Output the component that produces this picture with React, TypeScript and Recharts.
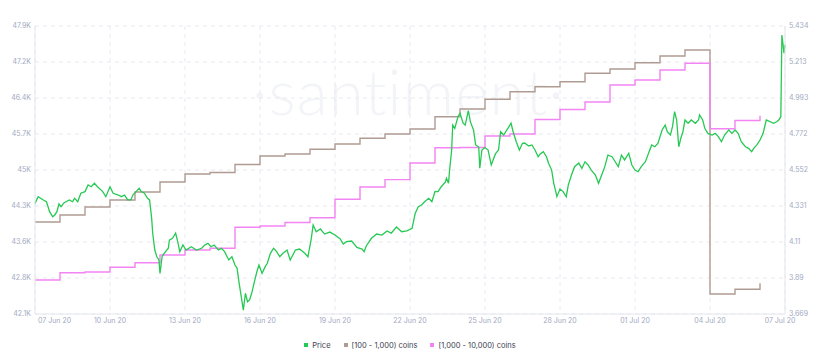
import { LineChart, Line, XAxis, YAxis, CartesianGrid, Legend } from "recharts";

const FONT = "Inter, 'Open Sans', sans-serif";
const GREEN = "#26c953";
const BROWN = "#b09b93";
const PINK = "#f384f3";
const TICK = "#a2a9c2";
const AXIS = "#e3e6ee";

// hours since 07 Jun 20 00:00
const dateTicks = [0, 72, 144, 216, 288, 360, 432, 504, 576, 648, 720];
const dateLabels = ["07 Jun 20", "10 Jun 20", "13 Jun 20", "16 Jun 20", "19 Jun 20", "22 Jun 20", "25 Jun 20", "28 Jun 20", "01 Jul 20", "04 Jul 20", "07 Jul 20"];

const leftTicks = [42100, 42825, 43550, 44275, 45000, 45725, 46450, 47175, 47900];
const leftLabels = ["42.1K", "42.8K", "43.6K", "44.3K", "45K", "45.7K", "46.4K", "47.2K", "47.9K"];
const rightTicks = [3.669, 3.8896, 4.1103, 4.3309, 4.5515, 4.7721, 4.9928, 5.2134, 5.434];
const rightLabels = ["3.669", "3.89", "4.11", "4.331", "4.552", "4.772", "4.993", "5.213", "5.434"];

const seriesNames = ["Price", "[100 - 1,000) coins", "[1,000 - 10,000) coins"];

// one value per day, from 07 Jun
const coins100 = [
  43953, 44094, 44255, 44396, 44557, 44758, 44919, 44950, 45111, 45282,
  45322, 45417, 45524, 45638, 45725, 45826, 46073, 46228, 46424, 46577,
  46678, 46778, 46947, 47034, 47161, 47296, 47417, 42503, 42597, 42718,
];
const coins1000 = [
  42785, 42932, 42946, 43040, 43133, 43288, 43389, 43423, 43846, 43872,
  43943, 44037, 44412, 44658, 44807, 45141, 45449, 45453, 45685, 45725,
  46017, 46218, 46369, 46712, 46812, 47014, 47149, 45832, 45997, 46094,
];

// [hour, price]
const price: [number, number][] = [
  [0, 4.347], [3, 4.388], [8, 4.368], [11, 4.357], [12, 4.337], [14, 4.296], [17, 4.265], [19, 4.276], [21, 4.296], [23, 4.343],
  [25, 4.327], [28, 4.351], [33, 4.368], [36, 4.357], [38, 4.378], [41, 4.357], [44, 4.409], [48, 4.419], [51, 4.46], [54, 4.449],
  [57, 4.47], [60, 4.449], [65, 4.419], [68, 4.388], [72, 4.449], [75, 4.409], [80, 4.398], [83, 4.388], [86, 4.398], [89, 4.368],
  [92, 4.368], [94, 4.398], [97, 4.419], [100, 4.439], [102, 4.419], [105, 4.409], [108, 4.378], [110, 4.368], [112, 4.255], [113, 4.164],
  [115, 4.061], [117, 4.02], [119, 4.0], [120, 3.918], [122, 4.02], [124, 4.041], [128, 4.072], [129, 4.122], [132, 4.133], [135, 4.164],
  [137, 4.112], [139, 4.051], [142, 4.092], [145, 4.061], [150, 4.081], [155, 4.061], [160, 4.072], [163, 4.092], [166, 4.102], [169, 4.081],
  [172, 4.092], [176, 4.061], [179, 4.072], [182, 4.051], [186, 4.0], [189, 4.02], [192, 3.969], [194, 3.949], [196, 3.857], [198, 3.775],
  [200, 3.693], [202, 3.796], [204, 3.744], [206, 3.755], [208, 3.796], [211, 3.877], [213, 3.928], [215, 3.969], [218, 3.918], [221, 3.959],
  [223, 3.98], [226, 4.041], [229, 4.072], [232, 4.051], [235, 4.02], [238, 4.041], [242, 4.061], [245, 4.0], [250, 4.061], [254, 4.067],
  [259, 4.041], [262, 4.02], [265, 4.122], [267, 4.214], [270, 4.173], [274, 4.19], [278, 4.159], [283, 4.171], [288, 4.153], [293, 4.129],
  [296, 4.098], [299, 4.112], [304, 4.116], [309, 4.077], [314, 4.067], [316, 4.051], [318, 4.086], [323, 4.133], [328, 4.159], [333, 4.153],
  [338, 4.178], [342, 4.165], [347, 4.202], [352, 4.173], [357, 4.178], [362, 4.194], [365, 4.286], [368, 4.327], [371, 4.337], [374, 4.357],
  [378, 4.378], [381, 4.357], [384, 4.42], [387, 4.419], [390, 4.449], [394, 4.478], [395, 4.501], [397, 4.47], [398, 4.551], [400, 4.674],
  [401, 4.827], [403, 4.807], [406, 4.878], [408, 4.899], [411, 4.838], [413, 4.827], [416, 4.916], [418, 4.846], [421, 4.797], [423, 4.705],
  [426, 4.692], [427, 4.562], [429, 4.674], [432, 4.689], [435, 4.674], [438, 4.582], [442, 4.65], [445, 4.674], [447, 4.786], [450, 4.766],
  [453, 4.797], [454, 4.807], [457, 4.838], [459, 4.786], [462, 4.725], [465, 4.674], [468, 4.715], [470, 4.717], [474, 4.699], [477, 4.705],
  [480, 4.674], [483, 4.633], [485, 4.65], [488, 4.664], [491, 4.633], [493, 4.593], [496, 4.551], [498, 4.47], [500, 4.417], [501, 4.388],
  [504, 4.435], [507, 4.419], [509, 4.398], [510, 4.388], [512, 4.46], [515, 4.521], [518, 4.572], [522, 4.594], [525, 4.562], [528, 4.602],
  [531, 4.582], [534, 4.551], [538, 4.521], [541, 4.47], [544, 4.521], [547, 4.572], [550, 4.643], [554, 4.633], [557, 4.602], [560, 4.572],
  [563, 4.643], [566, 4.613], [570, 4.654], [573, 4.582], [576, 4.551], [579, 4.541], [582, 4.572], [586, 4.602], [589, 4.654], [592, 4.705],
  [595, 4.694], [598, 4.715], [602, 4.797], [605, 4.827], [607, 4.786], [610, 4.766], [612, 4.817], [614, 4.909], [616, 4.858], [618, 4.694],
  [620, 4.746], [622, 4.786], [624, 4.858], [627, 4.838], [630, 4.858], [634, 4.838], [637, 4.858], [638, 4.889], [641, 4.858], [643, 4.807],
  [646, 4.776], [650, 4.766], [653, 4.776], [656, 4.756], [659, 4.725], [662, 4.766], [666, 4.797], [669, 4.776], [672, 4.797], [675, 4.776],
  [678, 4.725], [682, 4.694], [685, 4.684], [688, 4.664], [690, 4.684], [693, 4.705], [696, 4.735], [699, 4.776], [702, 4.858], [706, 4.847],
  [709, 4.838], [712, 4.847], [714, 4.858], [716, 4.878], [717, 5.379], [718, 5.328], [719, 5.267], [720, 5.318],
];

// merge everything into one table keyed by hour
const rows = new Map<number, any>();
const rowAt = (t: number) => {
  if (!rows.has(t)) rows.set(t, { t });
  return rows.get(t);
};
price.forEach(([t, v]) => { rowAt(t).price = v; });
coins100.forEach((v, d) => { rowAt(d * 24).c100 = v; });
coins1000.forEach((v, d) => { rowAt(d * 24).c1000 = v; });
const data = [...rows.values()].sort((a, b) => a.t - b.t);

const DateTick = (props: any) => {
  const { x, y, payload } = props;
  const i = dateTicks.indexOf(payload.value);
  const first = i === 0;
  const last = i === dateTicks.length - 1;
  return (
    <text x={x + (first ? 3 : last ? -5 : 0)} y={y} dy="0.71em" textAnchor={first ? "start" : "middle"}
      fill={TICK} fontSize={7} fontFamily={FONT}>
      {dateLabels[i]}
    </text>
  );
};

const legendColors = [GREEN, BROWN, PINK];

const ChartLegend = () => (
  <div style={{ height: 18, display: "flex", justifyContent: "center", alignItems: "center", gap: 13, fontFamily: FONT, fontSize: 7.5, color: "#3c4150" }}>
    {seriesNames.map((name, i) => (
      <span key={name} style={{ display: "flex", alignItems: "center" }}>
        <span style={{ width: 4, height: 4, background: legendColors[i], marginRight: 4, display: "inline-block" }} />
        {name}
      </span>
    ))}
  </div>
);

const App = () => {
  return (
    <div style={{ position: "absolute", left: 0, top: 0, width: 820, height: 354, background: "#fff" }}>
      <div style={{ position: "absolute", left: 252, top: 52, fontFamily: "Lato, sans-serif", fontWeight: 300, fontSize: 64, color: "#f3f4f8", letterSpacing: 1 }}>
        ·santiment·
      </div>
      <LineChart width={820} height={354} data={data} margin={{ top: 26, right: 0, bottom: 0, left: 0 }}>
        <CartesianGrid yAxisId="left" stroke="#e8eaf0" strokeDasharray="4 4" />
        <XAxis dataKey="t" type="number" domain={[0, 720]} ticks={dateTicks} interval={0} height={22}
          tick={<DateTick />} tickLine={false} tickSize={2} tickMargin={2} stroke={AXIS} />
        <YAxis yAxisId="left" domain={[42100, 47900]} ticks={leftTicks} interval={0} width={35}
          tickFormatter={(v: number) => leftLabels[leftTicks.indexOf(v)]}
          tick={{ fill: TICK, fontSize: 7, fontFamily: FONT }} tickLine={false} tickSize={0} tickMargin={4} stroke={AXIS} />
        <YAxis yAxisId="right" orientation="right" domain={[3.669, 5.434]} ticks={rightTicks} interval={0} width={35}
          tickFormatter={(v: number) => rightLabels[rightTicks.indexOf(v)]}
          tick={{ fill: TICK, fontSize: 7, fontFamily: FONT, textAnchor: "start" }} tickLine={false} tickSize={0} tickMargin={4} stroke={AXIS} />
        <Legend verticalAlign="bottom" height={18} content={<ChartLegend />} />
        <Line yAxisId="left" type="stepAfter" dataKey="c100" name={seriesNames[1]} stroke={BROWN} strokeWidth={1.4}
          dot={false} connectNulls isAnimationActive={false} />
        <Line yAxisId="left" type="stepAfter" dataKey="c1000" name={seriesNames[2]} stroke={PINK} strokeWidth={1.4}
          dot={false} connectNulls isAnimationActive={false} />
        <Line yAxisId="right" type="linear" dataKey="price" name={seriesNames[0]} stroke={GREEN} strokeWidth={1.3}
          dot={false} connectNulls isAnimationActive={false} />
      </LineChart>
    </div>
  );
};

export default App;
